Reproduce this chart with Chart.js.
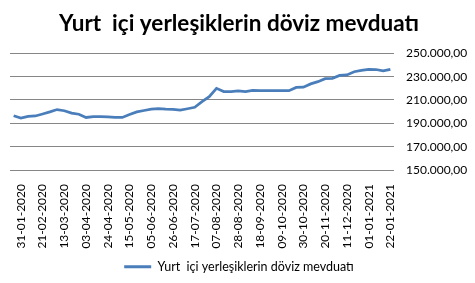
<!DOCTYPE html>
<html>
<head>
<meta charset="utf-8">
<script src="https://cdn.jsdelivr.net/npm/chart.js@4"></script>
<style>
html,body{margin:0;padding:0;background:#fff;}
#wrap{width:475px;height:283px;position:relative;}
</style>
</head>
<body>
<div id="wrap"><canvas id="c" width="475" height="283"></canvas></div>
<script>
const titleText = 'Yurt  içi yerleşiklerin döviz mevduatı';
const seriesName = 'Yurt  içi yerleşiklerin döviz mevduatı';
const categories = [
 '24-01-2020','31-01-2020','07-02-2020','14-02-2020','21-02-2020','28-02-2020','06-03-2020','13-03-2020',
 '20-03-2020','27-03-2020','03-04-2020','10-04-2020','17-04-2020','24-04-2020','01-05-2020','08-05-2020',
 '15-05-2020','22-05-2020','29-05-2020','05-06-2020','12-06-2020','19-06-2020','26-06-2020','03-07-2020',
 '10-07-2020','17-07-2020','24-07-2020','31-07-2020','07-08-2020','14-08-2020','21-08-2020','28-08-2020',
 '04-09-2020','11-09-2020','18-09-2020','25-09-2020','02-10-2020','09-10-2020','16-10-2020','23-10-2020',
 '30-10-2020','06-11-2020','13-11-2020','20-11-2020','27-11-2020','04-12-2020','11-12-2020','18-12-2020',
 '25-12-2020','01-01-2021','08-01-2021','15-01-2021','22-01-2021'
];
const values = [
 196500,194500,196000,196300,198000,199800,201800,200800,
 198800,197800,195000,195800,195800,195500,195000,195000,
 197500,199800,201000,202200,202600,202200,202000,201300,
 202500,203700,208500,212800,220000,217200,217200,217800,
 217200,218300,218000,218000,218000,218000,218000,220800,
 221000,223800,225700,228300,228600,231000,231500,234200,
 235300,236300,236100,234900,236300
];
const yMin = 150000, yMax = 250000, yStep = 20000;
const labelEvery = 3, labelStart = 1;

function fmt(v){
  const s = Math.round(v).toString();
  let out = '';
  for (let i = 0; i < s.length; i++) {
    if (i > 0 && (s.length - i) % 3 === 0) out += '.';
    out += s[i];
  }
  return out + ',00';
}

const blue = '#4A7EBB';
new Chart(document.getElementById('c'), {
  type: 'line',
  data: {
    labels: categories,
    datasets: [{
      label: seriesName,
      data: values,
      borderColor: blue,
      backgroundColor: blue,
      borderWidth: 2.75,
      pointRadius: 0,
      tension: 0,
      fill: false
    }]
  },
  options: {
    responsive: false,
    animation: false,
    devicePixelRatio: 1,
    layout: { padding: { left: 10, right: 7, top: 0, bottom: 0 } },
    plugins: {
      title: {
        display: true,
        text: titleText,
        color: '#000',
        font: { family: 'Lato', weight: 'bold', size: 22.5 },
        padding: { top: 10.5, bottom: 15.8 }
      },
      legend: {
        position: 'bottom',
        labels: {
          color: '#000',
          font: { family: 'Lato', size: 12.5 },
          boxWidth: 27,
          boxHeight: 3,
          padding: 1,
          generateLabels: (chart) => chart.data.datasets.map((d, i) => ({
            text: d.label, fillStyle: d.borderColor, strokeStyle: d.borderColor,
            lineWidth: 0, hidden: false, datasetIndex: i, fontColor: '#000'
          }))
        }
      },
      tooltip: { enabled: false }
    },
    scales: {
      x: {
        offset: true,
        grid: { display: false, drawTicks: false },
        border: { display: false },
        afterFit: (scale) => { scale.paddingLeft = 0; scale.paddingRight = 0; scale.height = 89.5; },
        ticks: {
          autoSkip: false,
          maxRotation: 90,
          minRotation: 90,
          padding: 14,
          color: '#000',
          font: { family: 'Lato', size: 12 },
          callback: function(val, idx) {
            return ((idx - labelStart) % labelEvery === 0 && idx >= labelStart) ? categories[idx] : '';
          }
        }
      },
      y: {
        position: 'right',
        min: yMin,
        max: yMax,
        grid: { color: '#868686', lineWidth: 1, drawTicks: false },
        border: { display: false },
        afterFit: (scale) => { scale.width = 74; },
        ticks: {
          stepSize: yStep,
          padding: 12,
          color: '#000',
          font: { family: 'Lato', size: 12 },
          callback: (v) => fmt(v)
        }
      }
    }
  }
});
</script>
</body>
</html>
